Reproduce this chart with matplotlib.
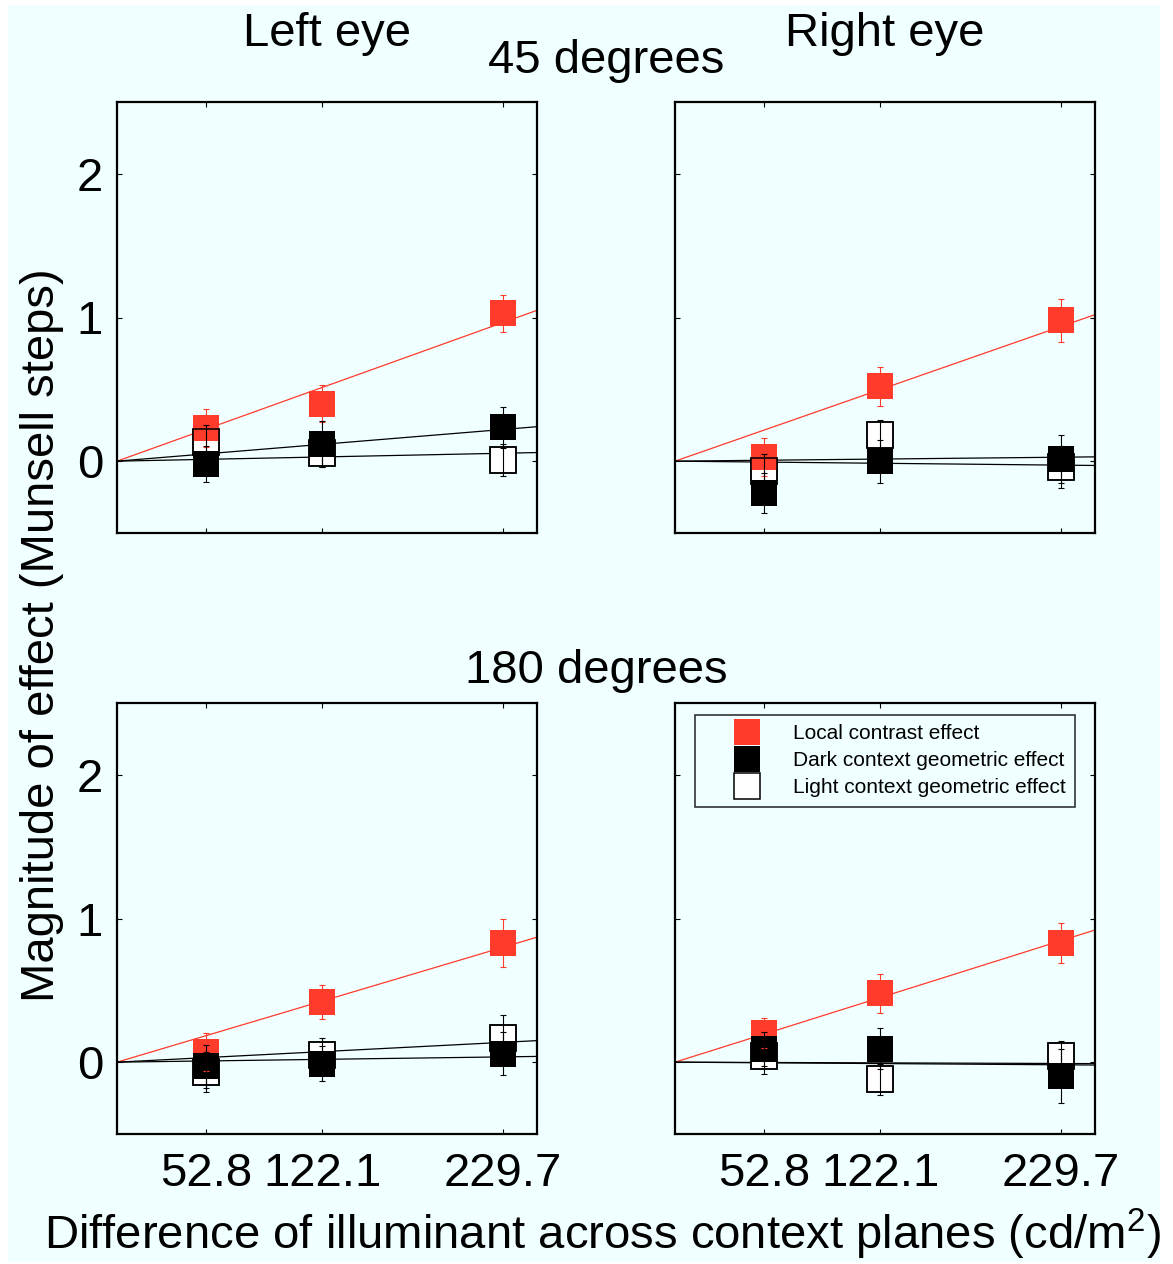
import matplotlib
matplotlib.use("Agg")
import matplotlib.pyplot as plt
from matplotlib.lines import Line2D
from matplotlib.patches import Rectangle

plt.rcParams['font.family'] = ['Liberation Sans', 'DejaVu Sans']
plt.rcParams['mathtext.fontset'] = 'custom'
plt.rcParams['mathtext.rm'] = 'Liberation Sans'

## Data
illum = [52.8, 122.1, 229.7]
x_end = 250

# 45 degrees, left eye
tl_local = [0.23, 0.40, 1.03]
tl_local_err = [0.13, 0.13, 0.13]
tl_dark = [-0.02, 0.12, 0.235]
tl_dark_err = [0.125, 0.16, 0.145]
tl_light = [0.13, 0.06, 0.01]
tl_light_err = [0.12, 0.10, 0.11]
tl_fit_end = [1.05, 0.24, 0.06]   # local, dark, light value of the fit line at x=250

# 45 degrees, right eye
tr_local = [0.03, 0.52, 0.98]
tr_local_err = [0.13, 0.135, 0.15]
tr_dark = [-0.22, 0.00, 0.015]
tr_dark_err = [0.14, 0.15, 0.165]
tr_light = [-0.07, 0.18, -0.04]
tr_light_err = [0.12, 0.11, 0.145]
tr_fit_end = [1.02, -0.03, 0.03]

# 180 degrees, left eye
bl_local = [0.07, 0.42, 0.83]
bl_local_err = [0.13, 0.12, 0.17]
bl_dark = [-0.03, -0.01, 0.06]
bl_dark_err = [0.15, 0.12, 0.15]
bl_light = [-0.07, 0.05, 0.17]
bl_light_err = [0.14, 0.12, 0.16]
bl_fit_end = [0.87, 0.04, 0.15]

# 180 degrees, right eye
br_local = [0.205, 0.48, 0.83]
br_local_err = [0.105, 0.135, 0.14]
br_dark = [0.09, 0.095, -0.095]
br_dark_err = [0.12, 0.14, 0.19]
br_light = [0.04, -0.12, 0.045]
br_light_err = [0.12, 0.11, 0.105]
br_fit_end = [0.92, -0.02, -0.01]

legend_labels = ["Local contrast effect", "Dark context geometric effect", "Light context geometric effect"]

RED = '#ff3b2b'
BG = '#f0ffff'
W, H = 1173, 1264
MS = 18.7

fig = plt.figure(figsize=(W / 100, H / 100), dpi=100, facecolor='white')
fig.patches.append(Rectangle((8 / W, 2 / H), 1152 / W, 1 - 7 / H, transform=fig.transFigure,
                             facecolor=BG, edgecolor='none', zorder=-10))

def px(x0, y0, x1, y1):
    return [x0 / W, 1 - y1 / H, (x1 - x0) / W, (y1 - y0) / H]

panels = [
    (px(117, 102, 537, 533), tl_local, tl_local_err, tl_dark, tl_dark_err, tl_light, tl_light_err, tl_fit_end, True, False),
    (px(675, 102, 1095, 533), tr_local, tr_local_err, tr_dark, tr_dark_err, tr_light, tr_light_err, tr_fit_end, False, False),
    (px(117, 703, 537, 1134), bl_local, bl_local_err, bl_dark, bl_dark_err, bl_light, bl_light_err, bl_fit_end, True, True),
    (px(675, 703, 1095, 1134), br_local, br_local_err, br_dark, br_dark_err, br_light, br_light_err, br_fit_end, False, True),
]

axes = []
for rect, loc, loc_e, dark, dark_e, light, light_e, fit, ylab, xlab in panels:
    ax = fig.add_axes(rect)
    ax.set_facecolor(BG)

    ## fit lines through origin
    ax.plot([0, x_end], [0, fit[0]], color=RED, lw=0.9, zorder=2)
    ax.plot([0, x_end], [0, fit[1]], color='black', lw=0.9, zorder=2)
    ax.plot([0, x_end], [0, fit[2]], color='black', lw=0.9, zorder=2)

    ## markers
    ax.plot(illum, light, 's', ms=MS, mfc='white', mec='black', mew=1.1, zorder=3)
    ax.plot(illum, loc, 's', ms=MS, mfc=RED, mec=RED, mew=0, zorder=4)
    ax.plot(illum, light, 's', ms=MS, mfc='none', mec='black', mew=1.1, zorder=5)
    ax.plot(illum, dark, 's', ms=MS, mfc='black', mec='black', mew=0, zorder=6)

    ## error bars
    ax.errorbar(illum, loc, yerr=loc_e, fmt='none', ecolor=RED, elinewidth=0.8, capsize=2, capthick=0.8, zorder=7)
    ax.errorbar(illum, light, yerr=light_e, fmt='none', ecolor='black', elinewidth=0.8, capsize=2, capthick=0.8, zorder=7)
    ax.errorbar(illum, dark, yerr=dark_e, fmt='none', ecolor='black', elinewidth=0.8, capsize=2, capthick=0.8, zorder=7)

    ax.set_xlim(0, x_end)
    ax.set_ylim(-0.5, 2.5)
    ax.set_xticks(illum)
    ax.set_yticks([0, 1, 2])
    ax.tick_params(direction='in', length=3.5, width=0.8, top=True, right=True,
                   labelsize=34, labelleft=ylab, labelbottom=xlab)
    ax.tick_params(axis='y', pad=10)
    ax.tick_params(axis='x', pad=13)
    ax.set_xticklabels(['52.8', '122.1', '229.7'])
    for s in ax.spines.values():
        s.set_linewidth(1.6)
    axes.append(ax)

## legend
handles = [
    Line2D([], [], ls='none', marker='s', ms=MS, mfc=RED, mec=RED, mew=0),
    Line2D([], [], ls='none', marker='s', ms=MS, mfc='black', mec='black', mew=0),
    Line2D([], [], ls='none', marker='s', ms=MS, mfc='white', mec='black', mew=1.1),
]
leg = axes[3].legend(handles, legend_labels, loc='upper right', bbox_to_anchor=(1075 / W, 1 - 715 / H),
                     bbox_transform=fig.transFigure, fontsize=15, frameon=True, fancybox=False,
                     labelspacing=0.38, handletextpad=0.15, borderpad=0.45, handlelength=4.1,
                     borderaxespad=0)
leg.get_frame().set_edgecolor('black')
leg.get_frame().set_linewidth(1.2)
leg.get_frame().set_facecolor(BG)

## titles and labels
fig.text(327 / W, 1 - 46 / H, "Left eye", ha='center', va='baseline', fontsize=34)
fig.text(885 / W, 1 - 46 / H, "Right eye", ha='center', va='baseline', fontsize=34)
fig.text(606 / W, 1 - 73 / H, "45 degrees", ha='center', va='baseline', fontsize=34)
fig.text(596 / W, 1 - 683 / H, "180 degrees", ha='center', va='baseline', fontsize=34)
fig.text(42 / W, 1 - 635 / H, "Magnitude of effect (Munsell steps)", ha='center', va='center',
         rotation=90, fontsize=34)
fig.text(602 / W, 1 - 1249 / H, "Difference of illuminant across context planes (cd/m$^2$)",
         ha='center', va='baseline', fontsize=34)

fig.savefig("out.png", dpi=100, facecolor=fig.get_facecolor())
